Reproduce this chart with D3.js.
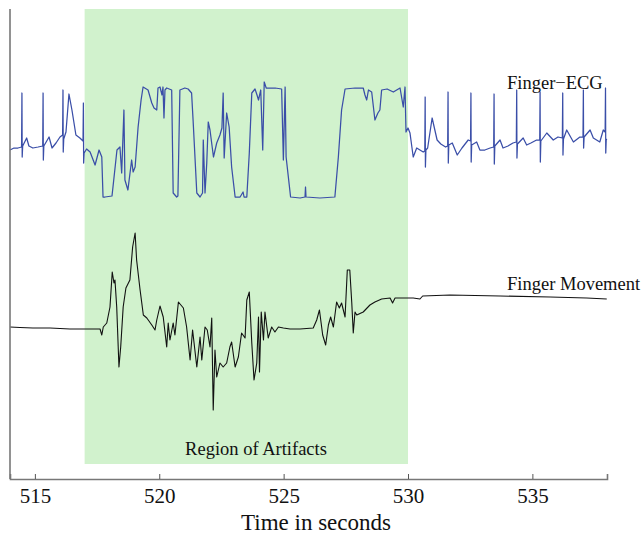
<!DOCTYPE html>
<html>
<head>
<meta charset="utf-8">
<script src="https://cdn.jsdelivr.net/npm/d3@7"></script>
<style>
  html, body { margin: 0; padding: 0; background: #fff; }
  svg { display: block; }
  text { font-family: "Liberation Serif", "Times New Roman", serif; fill: #111; }
</style>
</head>
<body>
<div id="chart"></div>
<script>
// ---------- DATA (time in seconds, amplitude in arbitrary units) ----------
const xTicks = [515, 520, 525, 530, 535];
const artifactRegion = [517, 530];
const seriesLabels = ["Finger\u2212ECG", "Finger Movement"];
const regionLabel = "Region of Artifacts";
const axisTitle = "Time in seconds";

const ecgT = [514.00,514.16,514.32,514.465,514.48,514.49,514.51,514.67,514.76,514.92,515.13,515.315,515.33,515.34,515.36,515.57,515.69,515.85,516.01,516.115,516.13,516.14,516.16,516.25,516.37,516.49,516.65,516.81,516.935,516.95,516.96,516.98,
517.08,517.22,517.42,517.58,517.69,517.74,517.82,518.10,518.14,518.30,518.42,518.49,518.58,518.62,518.74,518.89,518.95,519.03,519.15,519.27,519.35,519.55,519.70,519.79,519.90,519.95,520.03,520.11,520.15,520.19,520.23,520.30,520.50,520.56,520.70,520.75,520.83,521.03,521.16,521.30,521.36,521.51,521.64,521.74,521.77,521.84,521.91,521.97,522.04,522.18,522.31,522.44,522.52,522.57,522.61,522.71,522.81,522.91,523.05,523.25,523.37,523.41,523.52,523.62,523.72,523.85,523.93,523.99,524.08,524.16,524.22,524.30,524.66,524.92,524.99,525.06,525.10,525.19,525.28,525.66,525.86,525.88,525.90,526.46,527.06,527.20,527.33,527.47,527.87,528.20,528.27,528.34,528.41,528.54,528.67,528.79,528.87,528.94,529.16,529.41,529.68,529.81,529.88,529.92,530.00,530.08,530.21,530.35,530.48,
530.61,530.675,530.69,530.70,530.72,530.79,530.97,531.17,531.32,531.51,531.595,531.61,531.62,531.64,531.78,531.98,532.17,532.42,532.515,532.53,532.54,532.56,532.76,532.89,533.09,533.30,533.445,533.46,533.47,533.49,533.70,533.82,534.02,534.22,534.355,534.37,534.38,534.40,534.63,534.77,534.94,535.17,535.295,535.31,535.32,535.34,535.58,535.84,536.03,536.205,536.22,536.23,536.25,536.38,536.65,536.91,537.035,537.05,537.06,537.08,537.32,537.45,537.71,537.85,537.925,537.94,537.95,537.97,537.99];
const ecgV = [329,331,331,332,386,322,333,341,333,331,332,333,386,319,333,342,331,336,342,344,389,327,340,347,385,369,344,341,338,376,316,326,
330,327,314,329,322,282,282,283,292,329,332,306,369,299,289,319,307,312,352,379,392,389,376,371,369,391,392,384,392,361,389,391,389,286,282,283,389,391,390,386,359,286,282,286,339,286,316,357,349,322,336,344,351,386,321,366,352,312,282,282,287,282,282,326,386,390,384,379,389,329,397,391,391,390,319,392,322,302,282,281,282,292,282,281,282,322,369,390,391,391,384,379,389,387,359,366,369,389,390,387,391,372,392,347,351,346,322,331,329,
327,328,382,312,329,331,361,339,335,332,333,387,316,334,336,324,331,339,338,386,317,334,337,329,329,331,332,385,315,333,339,331,333,336,337,389,321,335,341,334,336,339,339,387,317,338,346,339,342,341,386,324,340,349,337,342,342,389,331,342,349,341,337,349,347,391,326,340,339];

const moveT = [514.00,514.40,514.92,515.61,516.41,516.93,517.62,517.69,517.75,517.89,518.02,518.11,518.18,518.22,518.29,518.38,518.45,518.55,518.66,518.82,518.93,519.03,519.09,519.23,519.36,519.50,519.70,519.83,519.90,520.03,520.16,520.30,520.36,520.43,520.56,520.63,520.77,520.97,521.10,521.24,521.34,521.51,521.64,521.71,521.84,521.93,522.04,522.11,522.17,522.24,522.31,522.44,522.57,522.71,522.84,522.91,523.05,523.18,523.31,523.45,523.52,523.62,523.72,523.81,523.92,523.99,524.03,524.10,524.19,524.25,524.38,524.52,524.65,524.79,524.99,525.26,525.66,526.19,526.33,526.44,526.57,526.69,526.80,526.89,527.00,527.13,527.24,527.33,527.47,527.56,527.66,527.74,527.80,527.87,527.94,528.20,528.47,528.67,528.94,529.28,529.38,529.48,529.81,530.21,530.48,530.59,531.69,533.70,535.71,537.18,537.99];
const moveV = [152,151.5,151,151,150,150,150,144,152,156,172,207,196,199,172,112,132,172,191,199,232,246,219,189,164,161,154,149,159,173,162,132,156,139,156,144,177,171,152,119,149,112,142,119,152,149,132,161,69,129,102,116,112,116,132,137,112,122,146,141,179,187,136,99,116,162,107,167,139,167,141,152,147,152,151,150,150,151,159,169,144,134,154,162,152,177,171,176,162,209,209,176,146,167,164,167,174,177,180,181,176,181,181,181,180,183,184,183,182,181,180];

// ---------- LAYOUT ----------
const W = 644, H = 538;
const plot = { left: 10, right: 607, top: 9, bottom: 479 };

const svg = d3.select("#chart").append("svg").attr("width", W).attr("height", H);

const x = d3.scaleLinear().domain([514, 538]).range([plot.left, plot.right]);
const y = d3.scaleLinear().domain([0, 470]).range([plot.bottom, plot.top]);

// shaded artifact region
svg.append("rect")
  .attr("x", x(artifactRegion[0]))
  .attr("width", x(artifactRegion[1]) - x(artifactRegion[0]))
  .attr("y", y(470))
  .attr("height", y(15) - y(470))
  .attr("fill", "#d1f2cd");

const line = d3.line().x(d => x(d[0])).y(d => y(d[1]));

svg.append("path")
  .datum(ecgT.map((t, i) => [t, ecgV[i]]))
  .attr("d", line)
  .attr("fill", "none")
  .attr("stroke", "#3a4ea8")
  .attr("stroke-width", 1.25)
  .attr("stroke-linejoin", "round");

svg.append("path")
  .datum(moveT.map((t, i) => [t, moveV[i]]))
  .attr("d", line)
  .attr("fill", "none")
  .attr("stroke", "#111")
  .attr("stroke-width", 1.1)
  .attr("stroke-linejoin", "round");

// axes
const xAxis = d3.axisBottom(x).tickValues(xTicks).tickSize(-5).tickPadding(9).tickFormat(d3.format("d"));
const gx = svg.append("g").attr("transform", `translate(0,${plot.bottom})`).call(xAxis);
gx.select(".domain").attr("stroke", "#777").attr("stroke-width", 1.6);
gx.selectAll(".tick line").attr("stroke", "#555");
gx.selectAll(".tick text").attr("font-size", 21).attr("font-family", "Liberation Serif").attr("fill", "#111");

svg.append("line")
  .attr("x1", plot.left).attr("x2", plot.left)
  .attr("y1", plot.top).attr("y2", plot.bottom)
  .attr("stroke", "#777").attr("stroke-width", 1.6);

// labels
svg.append("text").attr("x", 507).attr("y", 89).attr("font-size", 18.5).text(seriesLabels[0]);
svg.append("text").attr("x", 507).attr("y", 290).attr("font-size", 18.5).text(seriesLabels[1]);
svg.append("text").attr("x", 256).attr("y", 455).attr("text-anchor", "middle").attr("font-size", 18.5).text(regionLabel);
svg.append("text").attr("x", 316).attr("y", 530).attr("text-anchor", "middle").attr("font-size", 23).text(axisTitle);
</script>
</body>
</html>
